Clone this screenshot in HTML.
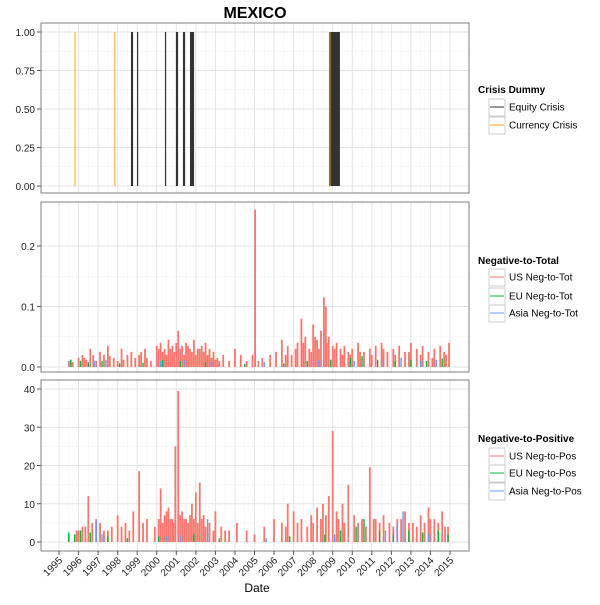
<!DOCTYPE html>
<html><head><meta charset="utf-8"><style>
body{margin:0;background:#fff;font-family:"Liberation Sans",Arial,sans-serif}
svg text{font-family:"Liberation Sans",Arial,sans-serif}
</style></head><body>
<svg id="c" width="600" height="600" xmlns="http://www.w3.org/2000/svg">
<rect width="600" height="600" fill="#fff"/>
<text x="255" y="18" font-size="16" font-weight="bold" text-anchor="middle">MEXICO</text>
<text x="257" y="592" font-size="12" text-anchor="middle">Date</text>
</svg>
<script>
const years=[1995,1996,1997,1998,1999,2000,2001,2002,2003,2004,2005,2006,2007,2008,2009,2010,2011,2012,2013,2014,2015];
const equityStart=[1998.68,1998.99,2000.42,2000.98,2001.34,2001.70,2008.81];
const equityEnd=[1998.79,1999.02,2000.45,2001.09,2001.45,2001.91,2009.37];
const currencyDates=[1995.82,1997.86,2008.86];
const ntUSDates=[1995.5,1995.7,1996.0,1996.2,1996.4,1996.6,1996.9,1997.1,1997.3,1997.5,1997.8,1998.0,1998.2,1998.5,1998.7,1998.9,1999.1,1999.4,1999.7,2000.0,2000.2,2000.4,2000.6,2000.8,2001.0,2001.1,2001.3,2001.5,2001.7,2001.9,2002.1,2002.3,2002.5,2002.7,2002.9,2003.1,2003.4,2003.7,2004.0,2004.3,2004.6,2004.9,2005.03,2005.4,2005.8,2006.1,2006.4,2006.7,2006.9,2007.2,2007.4,2007.6,2007.8,2008.0,2008.2,2008.4,2008.55,2008.65,2008.8,2009.0,2009.2,2009.4,2009.6,2009.8,2010.0,2010.3,2010.6,2010.9,2011.2,2011.5,2011.8,2012.1,2012.4,2012.7,2013.0,2013.3,2013.6,2013.9,2014.2,2014.5,2014.8,2014.95,
 1995.6,1996.3,1996.75,1997.6,1998.3,1999.2,1999.5,2000.1,2000.3,2000.5,2000.7,2000.9,2001.2,2001.4,2001.6,2001.8,2002.0,2002.2,2002.4,2002.6,2002.8,2003.0,2003.2,2005.2,2006.6,2007.1,2007.5,2007.9,2008.1,2008.3,2008.7,2009.1,2009.5,2009.9,2010.4,2011.0,2011.6,2012.2,2012.9,2013.5,2014.1,2014.7];
const ntUSVals=[0.01,0.008,0.015,0.02,0.012,0.03,0.01,0.025,0.02,0.035,0.015,0.01,0.03,0.02,0.025,0.015,0.02,0.03,0.01,0.035,0.04,0.03,0.045,0.035,0.04,0.06,0.035,0.04,0.03,0.045,0.03,0.035,0.04,0.03,0.025,0.015,0.02,0.01,0.03,0.02,0.01,0.02,0.26,0.015,0.02,0.025,0.045,0.035,0.02,0.04,0.08,0.05,0.03,0.07,0.045,0.06,0.115,0.1,0.05,0.035,0.04,0.03,0.035,0.025,0.03,0.04,0.025,0.03,0.035,0.04,0.025,0.03,0.035,0.025,0.04,0.03,0.035,0.025,0.03,0.035,0.02,0.04,
 0.012,0.015,0.02,0.018,0.012,0.025,0.015,0.03,0.025,0.02,0.03,0.025,0.03,0.02,0.035,0.025,0.02,0.03,0.025,0.02,0.015,0.012,0.01,0.01,0.02,0.03,0.04,0.025,0.05,0.03,0.04,0.03,0.02,0.02,0.025,0.02,0.03,0.02,0.025,0.02,0.015,0.025];
const ntEUDates=[1995.6,1996.1,1996.5,1997.2,1998.1,1999.3,2000.3,2001.2,2002.5,2004.5,2006.5,2007.7,2008.9,2009.9,2010.5,2011.3,2012.2,2013.0,2013.8,2014.6];
const ntEUVals=[0.012,0.01,0.008,0.01,0.006,0.007,0.012,0.01,0.008,0.005,0.006,0.01,0.012,0.015,0.018,0.012,0.01,0.012,0.01,0.014];
const ntAsiaDates=[1996.8,1997.4,2000.2,2001.4,2002.8,2005.5,2008.3,2010.1,2011.6,2012.5,2013.5,2014.3];
const ntAsiaVals=[0.01,0.012,0.01,0.012,0.01,0.008,0.012,0.01,0.012,0.015,0.01,0.012];
const npUSDates=[1995.5,1995.9,1996.2,1996.5,1996.7,1996.9,1997.3,1997.7,1998.0,1998.4,1998.8,1999.1,1999.5,1999.9,2000.2,2000.4,2000.6,2000.8,2000.95,2001.1,2001.3,2001.5,2001.8,2002.0,2002.2,2002.4,2002.7,2003.0,2003.3,2003.7,2004.1,2004.6,2005.0,2005.5,2006.0,2006.4,2006.7,2007.0,2007.4,2007.9,2008.2,2008.5,2008.8,2009.0,2009.2,2009.5,2009.8,2010.1,2010.5,2010.9,2011.2,2011.6,2011.9,2012.3,2012.7,2013.1,2013.5,2013.9,2014.2,2014.6,2014.9,
 1996.0,1996.35,1997.1,1997.5,1998.2,1998.6,1999.3,2000.1,2000.3,2000.5,2000.7,2000.85,2001.2,2001.4,2001.6,2001.7,2001.9,2002.1,2002.3,2002.5,2002.9,2003.5,2006.6,2007.2,2007.7,2008.0,2008.4,2008.65,2009.3,2009.6,2010.3,2010.7,2011.1,2011.4,2012.1,2012.5,2012.9,2013.3,2013.7,2014.0,2014.4,2014.75];
const npUSVals=[2,3,4,12,5,6,3,4,7,5,8,18.5,6,4,14,7,9,6,25,39.5,8,6,10,13,15.5,7,5,8,4,3,5,3,2,4,6,5,10,8,6,7,9,10,12,29,8,10,15,7,6,19.5,6,7,5,6,8,5,7,9,6,8,4,
 3,4,5,3,4,3,5,6,5,8,6,5,7,6,5,7,6,5,6,4,3,3,4,5,4,5,6,7,6,5,5,4,6,5,4,6,5,4,5,6,5,4];
const npEUDates=[1995.5,1995.8,1996.1,1996.6,1997.5,1998.5,2000.1,2001.9,2003.2,2006.8,2008.6,2009.4,2010.2,2010.6,2011.4,2012.1,2012.9,2013.6,2014.4,2014.9];
const npEUVals=[2.5,2,3,2.5,1.5,1,1.5,2,1,1.5,2,3,4,6,3,2,3,2.5,3,2];
const npAsiaDates=[1996.9,1997.2,2000.5,2001.2,2002.6,2005.6,2009.1,2011.7,2012.3,2012.6,2013.9];
const npAsiaVals=[5.5,2,1.5,2,6,1,2,3,5,8,2];

const S=document.getElementById('c'),NS='http://www.w3.org/2000/svg';
const L=41,R=469;
const X=y=>59+(y-1995)*19.55;
function el(t,a,p){const e=document.createElementNS(NS,t);for(const k in a)e.setAttribute(k,a[k]);(p||S).appendChild(e);return e;}
function panel(name,top,bot,y0,y1,ticks,tickLbl,vmin,vmax){
 const g=el('g',{});
 
 
 const Y=v=>y0+(v-vmin)/(vmax-vmin)*(y1-y0);
 for(let i=0;i<years.length-1;i++){el('line',{x1:X(years[i]+0.5),x2:X(years[i]+0.5),y1:top,y2:bot,stroke:'#f3f3f3','stroke-width':0.6},g);}
 for(let i=0;i<ticks.length-1;i++){const m=Y((ticks[i]+ticks[i+1])/2);el('line',{x1:L,x2:R,y1:m,y2:m,stroke:'#f3f3f3','stroke-width':0.6},g);}
 years.forEach(y=>el('line',{x1:X(y),x2:X(y),y1:top,y2:bot,stroke:'#e3e3e3','stroke-width':1},g));
 ticks.forEach((t,i)=>{const yy=Y(t);el('line',{x1:L,x2:R,y1:yy,y2:yy,stroke:'#e3e3e3','stroke-width':1},g);
  el('line',{x1:L-4,x2:L,y1:yy,y2:yy,stroke:'#555'},g);
  const tx=el('text',{x:L-6,y:yy+4,'font-size':10,'text-anchor':'end',fill:'#222'},g);tx.textContent=tickLbl[i];
  
  });
 return {g,Y};
}
function bars(p,dates,vals,color,name,w){
 dates.forEach((d,i)=>{const y0=p.Y(0),y1=p.Y(vals[i]);
  const r=el('rect',{x:X(d)-w/2,y:Math.min(y0,y1),width:w,height:Math.abs(y0-y1),fill:color},p.g);
  
  });
}
function border(p,top,bot){el('rect',{x:L,y:top,width:R-L,height:bot-top,fill:'none',stroke:'#7f7f7f','stroke-width':1},p.g);}
const p1=panel('crisis-panel',23,193,186,32,[0,0.25,0.5,0.75,1],['0.00','0.25','0.50','0.75','1.00'],0,1);
equityStart.forEach((s,i)=>{const r=el('rect',{x:X(s),y:p1.Y(1),width:Math.max(1.2,X(equityEnd[i])-X(s)),height:p1.Y(0)-p1.Y(1),fill:'#333'},p1.g);
 
 });
currencyDates.forEach(d=>{const r=el('rect',{x:X(d)-0.5,y:p1.Y(1),width:1,height:p1.Y(0)-p1.Y(1),fill:'#ffa500'},p1.g);
 
 });
border(p1,23,193);
const p2=panel('neg-to-total-panel',202,372,367,246,[0,0.1,0.2],['0.0','0.1','0.2'],0,0.2);
bars(p2,ntUSDates,ntUSVals,'#f8766d','us-neg-to-tot-bar',1.8);
bars(p2,ntEUDates,ntEUVals,'#00ba38','eu-neg-to-tot-bar',1.4);
bars(p2,ntAsiaDates,ntAsiaVals,'#619cff','asia-neg-to-tot-bar',1.4);
border(p2,202,372);
const p3=panel('neg-to-pos-panel',380,551,542,389,[0,10,20,30,40],['0','10','20','30','40'],0,40);
bars(p3,npUSDates,npUSVals,'#f8766d','us-neg-to-pos-bar',1.8);
bars(p3,npEUDates,npEUVals,'#00ba38','eu-neg-to-pos-bar',1.4);
bars(p3,npAsiaDates,npAsiaVals,'#619cff','asia-neg-to-pos-bar',1.4);
border(p3,380,551);
years.forEach(y=>{el('line',{x1:X(y),x2:X(y),y1:551,y2:555,stroke:'#555'});
 const t=el('text',{x:X(y)+4,y:561,'font-size':10,'text-anchor':'end',fill:'#222',transform:`rotate(-45 ${X(y)+4} 561)`});t.textContent=y;
 
 });
function legend(name,title,ty,items){
 const g=el('g',{});
 
 
 const t=el('text',{x:478,y:ty,'font-size':10,'font-weight':'bold'},g);t.textContent=title;
 items.forEach((it,i)=>{const yy=it[2];
  el('rect',{x:489,y:yy-8,width:16,height:17,fill:'#fff',stroke:'#ccc'},g);
  el('line',{x1:490,x2:504,y1:yy,y2:yy,stroke:it[1],'stroke-width':1},g);
  const tx=el('text',{x:509,y:yy+3.5,'font-size':10},g);tx.textContent=it[0];
  
  });
}
legend('crisis-legend','Crisis Dummy',93,[['Equity Crisis','#333',107],['Currency Crisis','#ffa500',125]]);
legend('neg-to-total-legend','Negative-to-Total',264,[['US Neg-to-Tot','#f8766d',277],['EU Neg-to-Tot','#00ba38',296],['Asia Neg-to-Tot','#619cff',313]]);
legend('neg-to-pos-legend','Negative-to-Positive',442,[['US Neg-to-Pos','#f8766d',456],['EU Neg-to-Pos','#00ba38',473],['Asia Neg-to-Pos','#619cff',491]]);
</script>
</body></html>
